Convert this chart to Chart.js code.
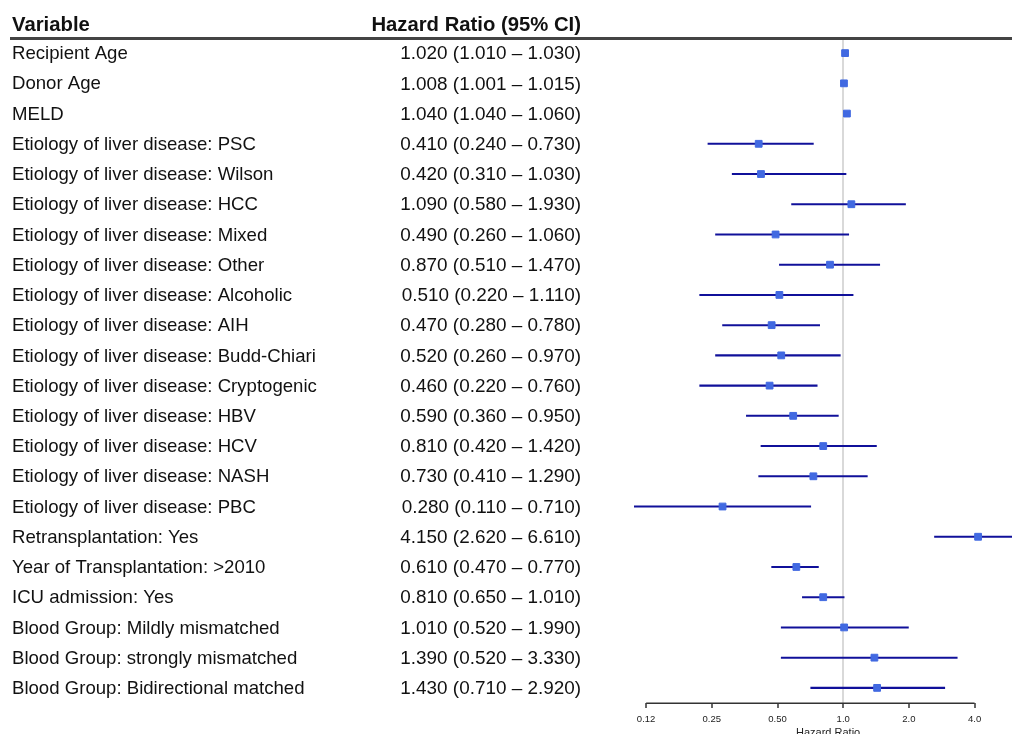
<!DOCTYPE html>
<html>
<head>
<meta charset="utf-8">
<script src="https://cdn.jsdelivr.net/npm/chart.js@4/dist/chart.umd.min.js"></script>
<style>
  html, body { margin: 0; padding: 0; background: #fff; overflow: hidden; }
  #wrap { width: 1012px; height: 734px; position: relative; overflow: hidden; }
  #c { position: absolute; left: 0; top: 0; }
</style>
</head>
<body>
<div id="wrap"><canvas id="c" width="1028" height="734"></canvas></div>
<script>
const variables = [
  "Recipient Age",
  "Donor Age",
  "MELD",
  "Etiology of liver disease: PSC",
  "Etiology of liver disease: Wilson",
  "Etiology of liver disease: HCC",
  "Etiology of liver disease: Mixed",
  "Etiology of liver disease: Other",
  "Etiology of liver disease: Alcoholic",
  "Etiology of liver disease: AIH",
  "Etiology of liver disease: Budd-Chiari",
  "Etiology of liver disease: Cryptogenic",
  "Etiology of liver disease: HBV",
  "Etiology of liver disease: HCV",
  "Etiology of liver disease: NASH",
  "Etiology of liver disease: PBC",
  "Retransplantation: Yes",
  "Year of Transplantation: >2010",
  "ICU admission: Yes",
  "Blood Group: Mildly mismatched",
  "Blood Group: strongly mismatched",
  "Blood Group: Bidirectional matched"
];
const hazardRatio = [1.020, 1.008, 1.040, 0.410, 0.420, 1.090, 0.490, 0.870, 0.510, 0.470, 0.520, 0.460, 0.590, 0.810, 0.730, 0.280, 4.150, 0.610, 0.810, 1.010, 1.390, 1.430];
const ciLower     = [1.010, 1.001, 1.040, 0.240, 0.310, 0.580, 0.260, 0.510, 0.220, 0.280, 0.260, 0.220, 0.360, 0.420, 0.410, 0.110, 2.620, 0.470, 0.650, 0.520, 0.520, 0.710];
const ciUpper     = [1.030, 1.015, 1.060, 0.730, 1.030, 1.930, 1.060, 1.470, 1.110, 0.780, 0.970, 0.760, 0.950, 1.420, 1.290, 0.710, 6.610, 0.770, 1.010, 1.990, 3.330, 2.920];
const tickValues  = [0.125, 0.25, 0.5, 1, 2, 4];
const tickLabels  = ["0.12", "0.25", "0.50", "1.0", "2.0", "4.0"];
const axisMin = 0.11, axisMax = 6.61;

const FONT = "'Liberation Sans', Arial, Helvetica, sans-serif";

const tablePlugin = {
  id: 'forestTable',
  afterDraw(chart) {
    const ctx = chart.ctx;
    const ys = chart.scales.y, xs = chart.scales.x;
    ctx.save();
    // header
    ctx.fillStyle = '#111';
    ctx.font = "bold 20.3px " + FONT;
    ctx.textBaseline = 'alphabetic';
    ctx.textAlign = 'left';
    ctx.fillText('Variable', 12, 31);
    ctx.textAlign = 'right';
    ctx.fillText('Hazard Ratio (95% CI)', 581, 31);
    // header rule
    ctx.fillStyle = '#444';
    ctx.fillRect(10, 37, 1002, 3);
    // rows
    ctx.fillStyle = '#111';
    ctx.textBaseline = 'middle';
    variables.forEach((v, i) => {
      const y = ys.getPixelForValue(i) + 1;
      ctx.font = "18.6px " + FONT;
      ctx.textAlign = 'left';
      ctx.fillText(v, 12, y);
      ctx.font = "18.9px " + FONT;
      ctx.textAlign = 'right';
      const s = hazardRatio[i].toFixed(3) + ' (' + ciLower[i].toFixed(3) + ' \u2013 ' + ciUpper[i].toFixed(3) + ')';
      ctx.fillText(s, 581, y);
    });
    // x axis line between first and last tick
    ctx.strokeStyle = '#333';
    ctx.lineWidth = 1.5;
    ctx.beginPath();
    const yAxis = Math.round(xs.top) + 0.25;
    ctx.moveTo(xs.getPixelForValue(tickValues[0]), yAxis);
    ctx.lineTo(xs.getPixelForValue(tickValues[tickValues.length - 1]), yAxis);
    ctx.stroke();
    ctx.restore();
  }
};

new Chart(document.getElementById('c'), {
  type: 'bar',
  data: {
    labels: variables,
    datasets: [
      {
        type: 'scatter',
        data: hazardRatio.map((h, i) => ({ x: h, y: variables[i] })),
        pointStyle: 'rect',
        pointRadius: 4.8,
        backgroundColor: '#4169E1',
        borderColor: '#4169E1',
        borderWidth: 1,
        order: 0
      },
      {
        type: 'bar',
        data: ciLower.map((lo, i) => [lo, ciUpper[i]]),
        backgroundColor: '#10109A',
        borderWidth: 0,
        barThickness: 1.4,
        order: 1
      }
    ]
  },
  options: {
    indexAxis: 'y',
    responsive: false,
    animation: false,
    events: [],
    layout: { padding: { left: 634, right: 0, top: 38, bottom: 0 } },
    plugins: { legend: { display: false }, tooltip: { enabled: false }, title: { display: false } },
    scales: {
      y: {
        type: 'category',
        display: false,
        offset: true
      },
      x: {
        type: 'logarithmic',
        position: 'bottom',
        min: axisMin,
        max: axisMax,
        bounds: 'data',
        afterBuildTicks: (axis) => { axis.ticks = tickValues.map(v => ({ value: v })); },
        afterFit: (axis) => { axis.height = 31; },
        border: { display: false },
        grid: {
          drawOnChartArea: true,
          drawTicks: true,
          tickLength: 5,
          tickWidth: 1.5,
          tickColor: '#333',
          lineWidth: 2,
          color: (c) => (c.tick && c.tick.value === 1) ? '#d9d9d9' : 'rgba(0,0,0,0)'
        },
        ticks: {
          autoSkip: false,
          maxRotation: 0,
          padding: 6,
          color: '#222',
          font: { family: FONT, size: 9.5 },
          callback: (val, idx) => tickLabels[idx]
        },
        title: {
          display: true,
          text: 'Hazard Ratio',
          color: '#222',
          font: { family: FONT, size: 11 },
          padding: { top: 0, bottom: -6 }
        }
      }
    }
  },
  plugins: [tablePlugin]
});
</script>
</body>
</html>
